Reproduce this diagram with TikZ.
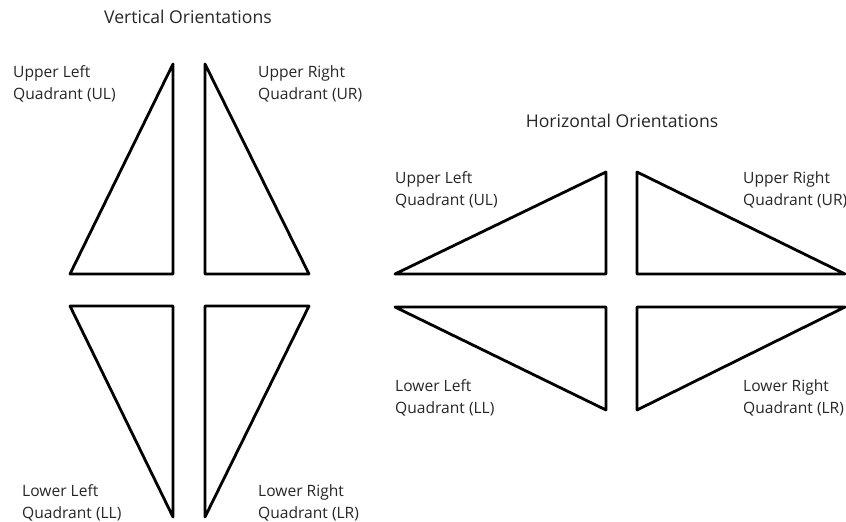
\documentclass[tikz,border=0pt]{standalone}
\usepackage{fontspec}
\setmainfont{Open Sans}
\usepackage{tikz}
\usetikzlibrary{positioning}

\tikzset{
    tri/.style={line width=2.8pt, line join=round},
    quadlabel/.style={anchor=north west, inner sep=0pt, align=left,
        text=black!85, font=\fontsize{15.6}{22}\selectfont},
    title/.style={anchor=north, inner sep=0pt, text=black!85,
        font=\fontsize{17.6}{20}\selectfont}
}

\begin{document}
\begin{tikzpicture}[x=1pt, y=-1pt]
    \useasboundingbox (0,0) rectangle (846,522);

    % vertical orientations
    \node[title] (vtitle) at (188, 10) {Vertical Orientations};

    \draw[tri] (173, 64) -- (173, 274) -- (70, 274) -- cycle;
    \draw[tri] (205, 64) -- (205, 274) -- (309, 274) -- cycle;
    \draw[tri] (70, 306) -- (173, 306) -- (173, 517) -- cycle;
    \draw[tri] (205, 306) -- (309, 306) -- (205, 517) -- cycle;

    \node[quadlabel] (vul) at (13, 65) {Upper Left\\Quadrant (UL)};
    \node[quadlabel] (vur) at (258, 65) {Upper Right\\Quadrant (UR)};
    \node[quadlabel] (vll) at (22, 484) {Lower Left\\Quadrant (LL)};
    \node[quadlabel] (vlr) at (258, 484) {Lower Right\\Quadrant (LR)};

    % horizontal orientations
    \node[title] (htitle) at (622, 114) {Horizontal Orientations};

    \draw[tri] (395, 274) -- (606, 172) -- (606, 274) -- cycle;
    \draw[tri] (637, 172) -- (845, 274) -- (637, 274) -- cycle;
    \draw[tri] (395, 307) -- (606, 307) -- (606, 410) -- cycle;
    \draw[tri] (637, 307) -- (845, 307) -- (637, 410) -- cycle;

    \node[quadlabel] (hul) at (395, 171) {Upper Left\\Quadrant (UL)};
    \node[quadlabel] (hur) at (743, 171) {Upper Right\\Quadrant (UR)};
    \node[quadlabel] (hll) at (395, 379) {Lower Left\\Quadrant (LL)};
    \node[quadlabel] (hlr) at (743, 379) {Lower Right\\Quadrant (LR)};
\end{tikzpicture}
\end{document}
